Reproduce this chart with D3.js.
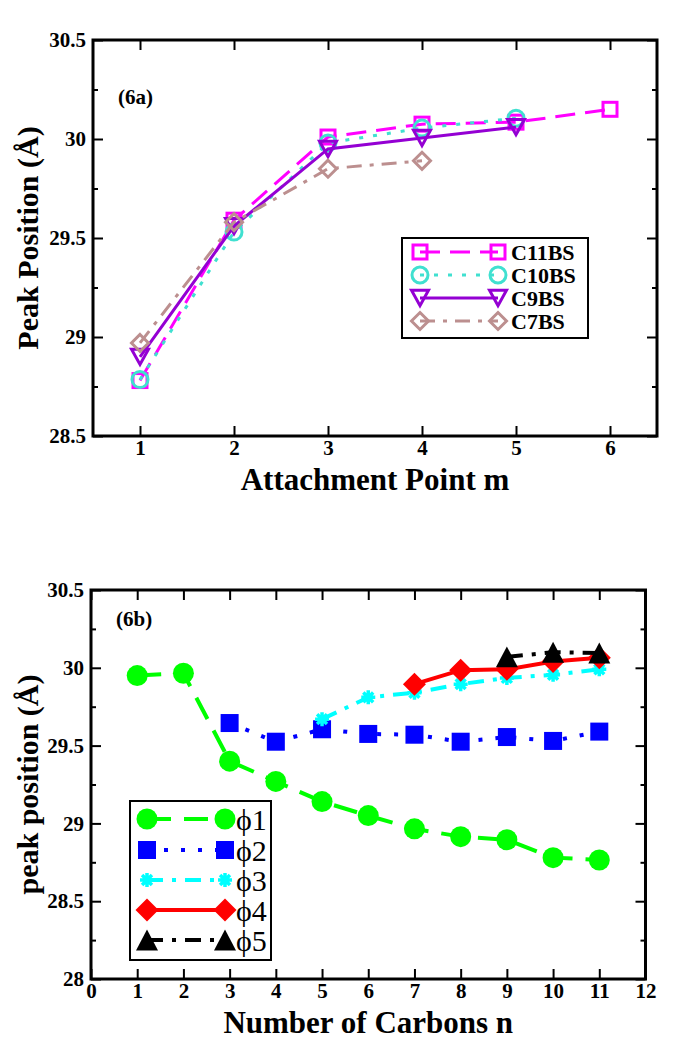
<!DOCTYPE html>
<html><head><meta charset="utf-8">
<script src="https://cdn.jsdelivr.net/npm/d3@7/dist/d3.min.js"></script>
<style>body{margin:0;background:#fff}svg{display:block}svg text{font-family:"Liberation Serif","Times New Roman",Times,serif}</style>
</head><body>
<script>
// ---- data: chart (6a)
const mValues = [1, 2, 3, 4, 5, 6];
const c11bs = [28.78, 29.59, 30.01, 30.075, 30.085, 30.15];
const c10bs = [28.785, 29.53, 29.98, 30.055, 30.105];
const c9bs  = [28.90, 29.56, 29.95, 30.005, 30.06];
const c7bs  = [28.97, 29.58, 29.85, 29.89];
const xTicksA = [1, 2, 3, 4, 5, 6];
const yTicksA = [28.5, 29, 29.5, 30, 30.5];
// ---- data: chart (6b)
const nValues = [1,2,3,4,5,6,7,8,9,10,11];
const phi1 = [29.95, 29.965, 29.40, 29.27, 29.14, 29.05, 28.965, 28.915, 28.895, 28.78, 28.765]; // n=1..11
const phi2 = [29.645, 29.525, 29.605, 29.575, 29.57, 29.525, 29.555, 29.53, 29.59];          // n=3..11
const phi3 = [29.67, 29.81, 29.84, 29.895, 29.935, 29.955, 29.99];                            // n=5..11
const phi4 = [29.895, 29.985, 29.99, 30.04, 30.065];                                          // n=7..11
const phi5 = [30.07, 30.10, 30.095];                                                          // n=9..11
const xTicksB = [0,1,2,3,4,5,6,7,8,9,10,11,12];
const yTicksB = [28, 28.5, 29, 29.5, 30, 30.5];

const W = 678, H = 1050;
const svg = d3.select("body").append("svg").attr("width", W).attr("height", H);

function frame(g, x, y, xt, yt, yMinor, xTitle, yTitle, tag, tagY) {
  const [x0, x1] = x.range(), [y0, y1] = [y.range()[1], y.range()[0]];
  const bot = g.append("g").attr("transform", `translate(0,${y1})`)
    .call(d3.axisBottom(x).tickValues(xt).tickSize(-10).tickPadding(4).tickFormat(d3.format("d")));
  const top = g.append("g").attr("transform", `translate(0,${y0})`)
    .call(d3.axisTop(x).tickValues(xt).tickSize(-10).tickFormat(""));
  const left = g.append("g").attr("transform", `translate(${x0},0)`)
    .call(d3.axisLeft(y).tickValues(yt).tickSize(-10).tickPadding(7).tickFormat(d => String(d)));
  const right = g.append("g").attr("transform", `translate(${x1},0)`)
    .call(d3.axisRight(y).tickValues(yt).tickSize(-10).tickFormat(""));
  const leftMin = g.append("g").attr("transform", `translate(${x0},0)`)
    .call(d3.axisLeft(y).tickValues(yMinor).tickSize(-5).tickFormat(""));
  const rightMin = g.append("g").attr("transform", `translate(${x1},0)`)
    .call(d3.axisRight(y).tickValues(yMinor).tickSize(-5).tickFormat(""));
  [bot, top, left, right, leftMin, rightMin].forEach(a => {
    a.attr("font-family", null);
    a.select(".domain").remove();
    a.selectAll("line").attr("stroke", "#000").attr("stroke-width", 2);
    a.selectAll("text").attr("font-weight", "bold").attr("font-size", 21).attr("fill", "#000");
  });
  g.append("rect").attr("x", x0).attr("y", y0).attr("width", x1 - x0).attr("height", y1 - y0)
    .attr("fill", "none").attr("stroke", "#000").attr("stroke-width", 3);
  g.append("text").attr("x", (x0 + x1) / 2).attr("y", y1 + 54).attr("text-anchor", "middle")
    .attr("font-weight", "bold").attr("font-size", 31).text(xTitle);
  g.append("text").attr("transform", `translate(38,${(y0 + y1) / 2}) rotate(-90)`).attr("text-anchor", "middle")
    .attr("font-weight", "bold").attr("font-size", 30).text(yTitle);
  g.append("text").attr("x", x0 + 25).attr("y", tagY).attr("font-weight", "bold")
    .attr("font-size", 21).text(tag);
}

function marker(g, type, cx, cy, color, filled, s) {
  const fill = filled ? color : "none";
  const sw = filled ? 0 : 3;
  if (type === "square") {
    g.append("rect").attr("x", cx - s / 2).attr("y", cy - s / 2).attr("width", s).attr("height", s)
      .attr("fill", fill).attr("stroke", color).attr("stroke-width", sw);
  } else if (type === "circle") {
    g.append("circle").attr("cx", cx).attr("cy", cy).attr("r", s / 2)
      .attr("fill", fill).attr("stroke", color).attr("stroke-width", sw);
  } else if (type === "tdown") {
    const h = s * 0.9;
    g.append("path").attr("d", `M${cx - s / 2},${cy - h / 2}L${cx + s / 2},${cy - h / 2}L${cx},${cy + h / 2}Z`)
      .attr("fill", fill).attr("stroke", color).attr("stroke-width", sw);
  } else if (type === "tup") {
    const h = s * 0.95;
    g.append("path").attr("d", `M${cx - s / 2},${cy + h / 2}L${cx + s / 2},${cy + h / 2}L${cx},${cy - h / 2}Z`)
      .attr("fill", fill).attr("stroke", color).attr("stroke-width", sw);
  } else if (type === "diamond") {
    const r = s / 2;
    g.append("path").attr("d", `M${cx},${cy - r}L${cx + r},${cy}L${cx},${cy + r}L${cx - r},${cy}Z`)
      .attr("fill", fill).attr("stroke", color).attr("stroke-width", sw);
  } else if (type === "star") {
    const r = s / 2, d = r * 0.7071;
    g.append("path").attr("d",
      `M${cx - r},${cy}L${cx + r},${cy}M${cx},${cy - r}L${cx},${cy + r}M${cx - d},${cy - d}L${cx + d},${cy + d}M${cx - d},${cy + d}L${cx + d},${cy - d}`)
      .attr("fill", "none").attr("stroke", color).attr("stroke-width", 3.5);
  }
}

function drawSeries(g, x, y, xs, ys, st) {
  const pts = ys.map((v, i) => [x(xs[i]), y(v)]);
  g.append("path").attr("d", d3.line()(pts)).attr("fill", "none").attr("stroke", st.color)
    .attr("stroke-width", st.lw).attr("stroke-dasharray", st.dash || null);
  pts.forEach(p => marker(g, st.marker, p[0], p[1], st.color, st.filled, st.size));
}

function legend(g, bx, by, bw, bh, rows, rowY, sx1, sx2, tx, fontSize, bold) {
  g.append("rect").attr("x", bx).attr("y", by).attr("width", bw).attr("height", bh)
    .attr("fill", "#fff").attr("stroke", "#000").attr("stroke-width", 2);
  rows.forEach((r, i) => {
    const yy = rowY[i];
    g.append("line").attr("x1", sx1).attr("x2", sx2).attr("y1", yy).attr("y2", yy)
      .attr("stroke", r.color).attr("stroke-width", r.lw).attr("stroke-dasharray", r.dash || null);
    marker(g, r.marker, sx1, yy, r.color, r.filled, r.size);
    marker(g, r.marker, sx2, yy, r.color, r.filled, r.size);
    g.append("text").attr("x", tx).attr("y", yy).attr("dy", "0.35em")
      .attr("font-weight", bold ? "bold" : "normal")
      .attr("font-size", fontSize).text(r.label);
  });
}

// ---------- Chart (6a)
const xa = d3.scaleLinear().domain([0.5, 6.5]).range([93, 657]);
const ya = d3.scaleLinear().domain([28.5, 30.5]).range([436, 40]);
const ga = svg.append("g");
frame(ga, xa, ya, xTicksA, yTicksA, [28.75, 29.25, 29.75, 30.25], "Attachment Point m", "Peak Position (Å)", "(6a)", 104);
const stylesA = [
  {label: "C11BS", color: "#ff00ff", lw: 3, dash: "20,10", marker: "square", filled: false, size: 14},
  {label: "C10BS", color: "#40e0d0", lw: 3, dash: "4,10", marker: "circle", filled: false, size: 16},
  {label: "C9BS",  color: "#9400d3", lw: 3, dash: null, marker: "tdown", filled: false, size: 17},
  {label: "C7BS",  color: "#bc8f8f", lw: 3, dash: "15,8,4,8", marker: "diamond", filled: false, size: 17}
];
const seriesA = [c11bs, c10bs, c9bs, c7bs];
seriesA.forEach((s, i) => drawSeries(ga, xa, ya, mValues.slice(0, s.length), s, stylesA[i]));
legend(ga, 402, 238, 186, 100, stylesA, [252, 275, 298, 321], 420, 498, 511, 22, true);

// ---------- Chart (6b)
const xb = d3.scaleLinear().domain([0, 12]).range([91, 645.5]);
const yb = d3.scaleLinear().domain([28, 30.5]).range([979, 590]);
const gb = svg.append("g");
frame(gb, xb, yb, xTicksB, yTicksB, [28.25, 28.75, 29.25, 29.75, 30.25], "Number of Carbons n", "peak position (Å)", "(6b)", 626);
const stylesB = [
  {label: "ϕ1", color: "#00ff00", lw: 4, dash: "24,13", marker: "circle", filled: true, size: 21},
  {label: "ϕ2", color: "#0000ff", lw: 4, dash: "4,13", marker: "square", filled: true, size: 18},
  {label: "ϕ3", color: "#00ffff", lw: 4, dash: "16,9,4,9", marker: "star", filled: false, size: 14},
  {label: "ϕ4", color: "#ff0000", lw: 4, dash: null, marker: "diamond", filled: true, size: 23},
  {label: "ϕ5", color: "#000000", lw: 4, dash: "16,9,4,9", marker: "tup", filled: true, size: 22}
];
const seriesB = [phi1, phi2, phi3, phi4, phi5];
const startB = [1, 3, 5, 7, 9];
seriesB.forEach((s, i) => drawSeries(gb, xb, yb, nValues.slice(startB[i] - 1, startB[i] - 1 + s.length), s, stylesB[i]));
legend(gb, 130, 801, 141, 159, stylesB, [819, 850, 880, 910, 940], 147, 225, 236, 30, false);
</script>
</body></html>
